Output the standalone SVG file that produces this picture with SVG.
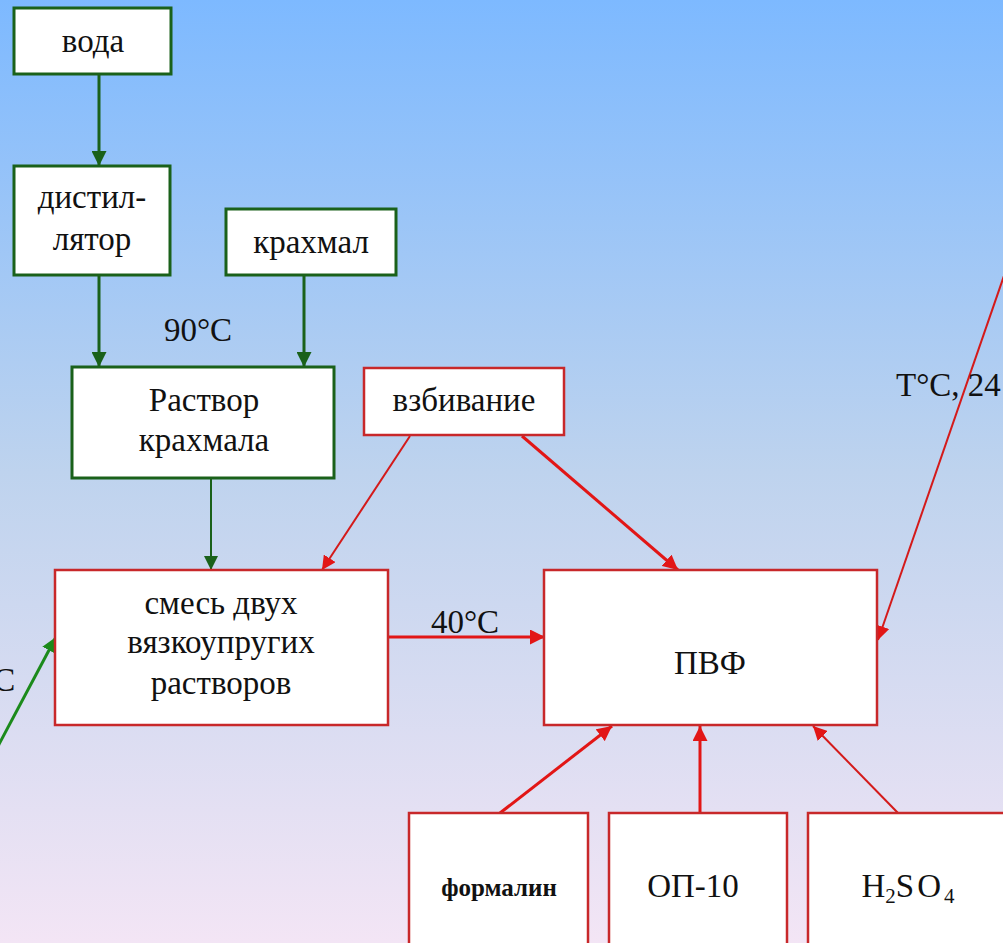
<svg xmlns="http://www.w3.org/2000/svg" width="1003" height="943" viewBox="0 0 1003 943">
<defs>
<linearGradient id="bg" x1="0" y1="0" x2="0" y2="1">
<stop offset="0" stop-color="#7db9ff"/>
<stop offset="0.5" stop-color="#bed3ee"/>
<stop offset="1" stop-color="#f3e5f5"/>
</linearGradient>
<marker id="ag" viewBox="0 0 10 10" refX="10" refY="5" markerWidth="5" markerHeight="5" orient="auto" markerUnits="strokeWidth">
<path d="M0,0 L10,5 L0,10 z" fill="#1a611a"/>
</marker>
<marker id="ag2" viewBox="0 0 10 10" refX="10" refY="5" markerWidth="7" markerHeight="7" orient="auto" markerUnits="strokeWidth">
<path d="M0,0 L10,5 L0,10 z" fill="#1a611a"/>
</marker>
<marker id="agb" viewBox="0 0 10 10" refX="10" refY="5" markerWidth="5" markerHeight="5" orient="auto" markerUnits="strokeWidth">
<path d="M0,0 L10,5 L0,10 z" fill="#1b8a1b"/>
</marker>
<marker id="ar" viewBox="0 0 10 10" refX="10" refY="5" markerWidth="5" markerHeight="5" orient="auto" markerUnits="strokeWidth">
<path d="M0,0 L10,5 L0,10 z" fill="#e21616"/>
</marker>
<marker id="ar2" viewBox="0 0 10 10" refX="10" refY="5" markerWidth="7" markerHeight="7" orient="auto" markerUnits="strokeWidth">
<path d="M0,0 L10,5 L0,10 z" fill="#e21616"/>
</marker>
</defs>
<style>
.g rect{fill:#fff;stroke:#1a611a;stroke-width:3}
.r rect{fill:#fff;stroke:#c8282a;stroke-width:2.5}
text{font-family:"Liberation Serif","Times New Roman",serif;font-size:33px;fill:#111;text-anchor:middle}
.cg{stroke:#1a611a;stroke-width:3;fill:none}
.cr{stroke:#e21616;stroke-width:3;fill:none}
.crt{stroke:#d41a1a;stroke-width:2;fill:none}
</style>
<rect x="0" y="0" width="1003" height="943" fill="url(#bg)"/>

<g id="connectors">
<line class="cg" x1="99" y1="74" x2="99" y2="166" marker-end="url(#ag)"/>
<line class="cg" x1="99" y1="276" x2="99" y2="367" marker-end="url(#ag)"/>
<line class="cg" x1="304" y1="276" x2="304" y2="367" marker-end="url(#ag)"/>
<line class="cg" style="stroke-width:2" x1="211" y1="479" x2="211" y2="570" marker-end="url(#ag2)"/>
<line class="cg" style="stroke:#1b8a1b" x1="-3" y1="748" x2="56" y2="637" marker-end="url(#agb)"/>
<line class="crt" x1="410" y1="436" x2="322" y2="570" marker-end="url(#ar2)"/>
<line class="cr" x1="522" y1="436" x2="678" y2="570" marker-end="url(#ar)"/>
<line class="cr" x1="389" y1="637" x2="545" y2="637" marker-end="url(#ar)"/>
<line class="crt" x1="1006" y1="270" x2="878" y2="640" marker-end="url(#ar2)"/>
<line class="cr" x1="500" y1="813" x2="612" y2="726" marker-end="url(#ar)"/>
<line class="cr" x1="700" y1="813" x2="700" y2="726" marker-end="url(#ar)"/>
<line class="crt" x1="898" y1="813" x2="813" y2="726" marker-end="url(#ar2)"/>
<text x="198" y="341">90°C</text>
<text x="465" y="633">40°C</text>
<text x="896" y="396" style="text-anchor:start">T°C, 24</text>
<text x="-20" y="691" style="text-anchor:start">°C</text>
</g>

<g id="voda" class="g"><rect x="14" y="8" width="157" height="66"/><text x="93" y="52">вода</text></g>
<g id="distil" class="g"><rect x="14" y="166" width="156" height="109"/><text x="92" y="208">дистил-</text><text x="92" y="250">лятор</text></g>
<g id="krahmal" class="g"><rect x="226" y="209" width="170" height="66"/><text x="311" y="253">крахмал</text></g>
<g id="rastvor" class="g"><rect x="72" y="367" width="262" height="111"/><text x="204" y="411">Раствор</text><text x="204" y="451">крахмала</text></g>
<g id="vzbivanie" class="r"><rect x="364" y="368" width="200" height="67"/><text x="464" y="411">взбивание</text></g>
<g id="smes" class="r"><rect x="55" y="570" width="333" height="155"/><text x="221" y="614">смесь двух</text><text x="221" y="653">вязкоупругих</text><text x="221" y="694">растворов</text></g>
<g id="pvf" class="r"><rect x="544" y="570" width="333" height="155"/><text x="710" y="674">ПВФ</text></g>
<g id="formalin" class="r"><rect x="409" y="813" width="179" height="140"/><text x="499" y="896" style="font-size:25px;font-weight:bold">формалин</text></g>
<g id="op10" class="r"><rect x="609" y="813" width="178" height="140"/><text x="693" y="897">ОП-10</text></g>
<g id="h2so4" class="r"><rect x="808" y="813" width="210" height="140"/><text x="908" y="897">H<tspan style="font-size:21px" dy="6">2</tspan><tspan dy="-6" style="letter-spacing:3px">SO</tspan><tspan style="font-size:21px" dy="6">4</tspan></text></g>
</svg>
